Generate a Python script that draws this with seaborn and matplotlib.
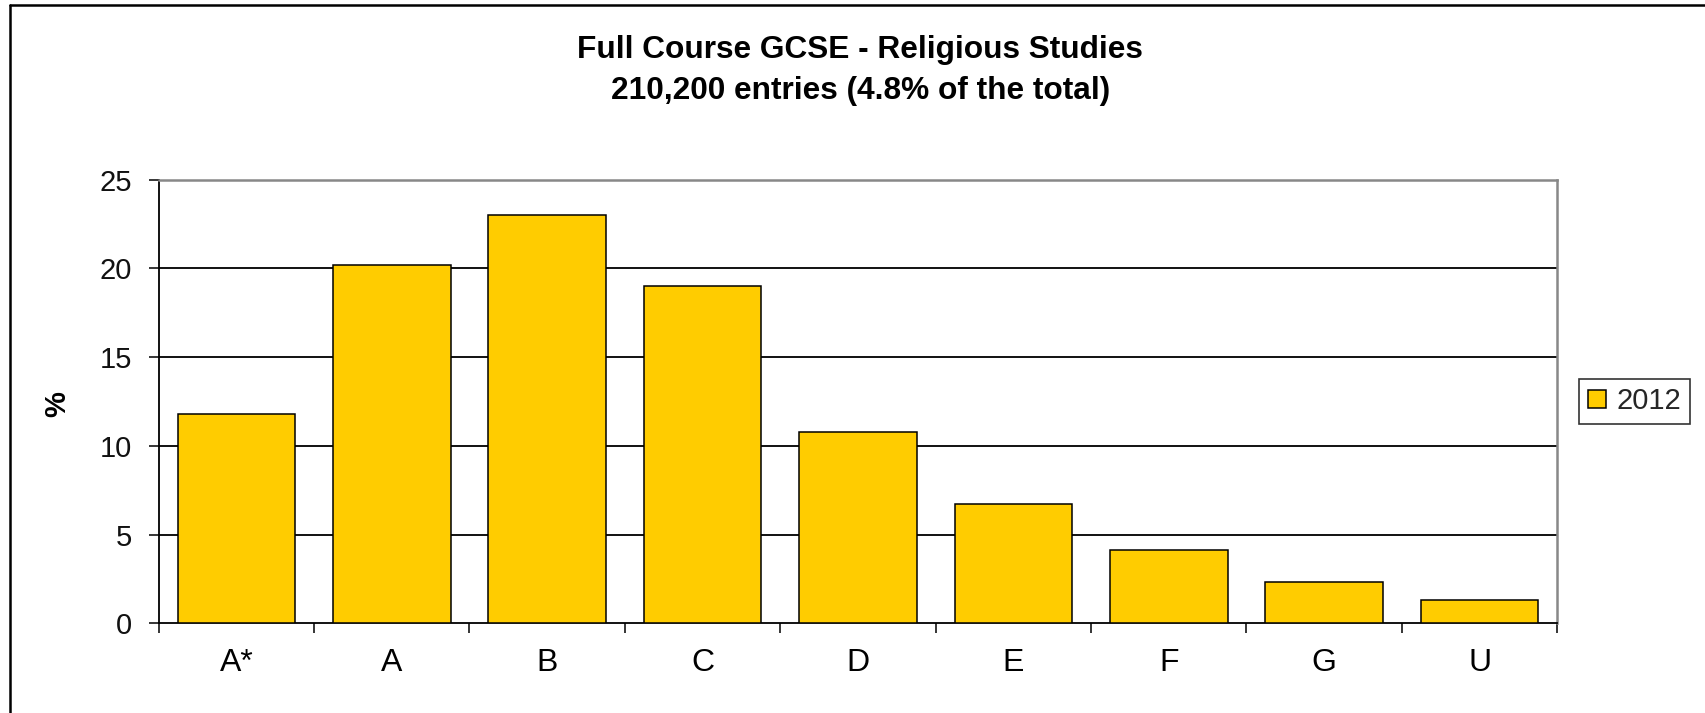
import matplotlib
matplotlib.use("Agg")
import matplotlib.pyplot as plt
import seaborn as sns
import pandas as pd
from matplotlib.patches import Patch
from matplotlib.lines import Line2D

grades = ["A*", "A", "B", "C", "D", "E", "F", "G", "U"]
pct_2012 = [11.8, 20.2, 23.0, 19.0, 10.8, 6.7, 4.15, 2.3, 1.3]
series_name = "2012"
yticks = [0, 5, 10, 15, 20, 25]
title_line1 = "Full Course GCSE - Religious Studies"
title_line2 = "210,200 entries (4.8% of the total)"
ylabel = "%"

sns.set_style("white")
plt.rcParams["font.family"] = ["Liberation Sans", "DejaVu Sans"]

W, H = 1706, 713
fig = plt.figure(figsize=(W / 100, H / 100), dpi=100)
ax = fig.add_axes([158.7 / W, 1 - 623.3 / H, (1557.3 - 158.7) / W, (623.3 - 179.7) / H])

df = pd.DataFrame({"grade": grades, "pct": pct_2012})
bar_color = "#FFCC00"
sns.barplot(data=df, x="grade", y="pct", color=bar_color, saturation=1,
            width=0.757, edgecolor="black", linewidth=1.1, ax=ax, zorder=3)

ax.set_xlim(-0.5, len(grades) - 0.5)
ax.set_ylim(0, 25)
ax.set_yticks(yticks)
ax.set_yticklabels([str(v) for v in yticks])
for v in yticks[1:-1]:
    ax.axhline(v, color="#111111", linewidth=1.4, zorder=1)

# x ticks: labels at centres, tick marks at boundaries
ax.set_xticks(range(len(grades)))
ax.set_xticks([i - 0.5 for i in range(len(grades) + 1)], minor=True)
ax.tick_params(axis="x", which="major", length=0, pad=17.5, labelsize=23, colors="black")
ax.tick_params(axis="x", which="minor", length=7.2, width=1.1, color="black", direction="out")
ax.tick_params(axis="y", which="major", length=7.2, width=1.1, color="black",
               direction="out", pad=12, labelsize=21, labelcolor="#111111")
ax.tick_params(axis="y", left=True)
ax.tick_params(axis="x", bottom=True, which="both")

ax.set_xlabel("")
ax.set_ylabel("")

for side in ["left", "bottom"]:
    ax.spines[side].set_color("black")
    ax.spines[side].set_linewidth(1.3)
for side in ["top", "right"]:
    ax.spines[side].set_color("#888888")
    ax.spines[side].set_linewidth(1.8)
    ax.spines[side].set_visible(True)
ax.spines["top"].set_zorder(4)

# titles
fig.text(860 / W, 1 - 58 / H, title_line1, ha="center", va="baseline",
         fontsize=22.8, fontweight="bold", color="black")
fig.text(861 / W, 1 - 99 / H, title_line2, ha="center", va="baseline",
         fontsize=22.8, fontweight="bold", color="black")

# y label
fig.text(57.5 / W, 1 - 403.7 / H, ylabel, rotation=90, ha="center", va="center",
         fontsize=21, fontweight="bold", color="black")

# legend
handle = Patch(facecolor=bar_color, edgecolor="black", linewidth=1.1, label=series_name)
leg = fig.legend(handles=[handle], loc="center left",
                 bbox_to_anchor=(1579 / W, 1 - 401.3 / H), bbox_transform=fig.transFigure,
                 fontsize=21, frameon=True, fancybox=False, borderpad=0.3,
                 handlelength=0.62, handleheight=0.62, handletextpad=0.38,
                 borderaxespad=0)
leg.get_frame().set_edgecolor("black")
leg.get_frame().set_linewidth(1.2)

# outer frame lines (left and top)
fig.add_artist(Line2D([10 / W, 10 / W], [0, 1 - 5 / H], transform=fig.transFigure,
                      color="black", linewidth=1.8))
fig.add_artist(Line2D([10 / W, 1], [1 - 5 / H, 1 - 5 / H], transform=fig.transFigure,
                      color="black", linewidth=1.8))

fig.savefig("out.png", dpi=100, facecolor="white")
